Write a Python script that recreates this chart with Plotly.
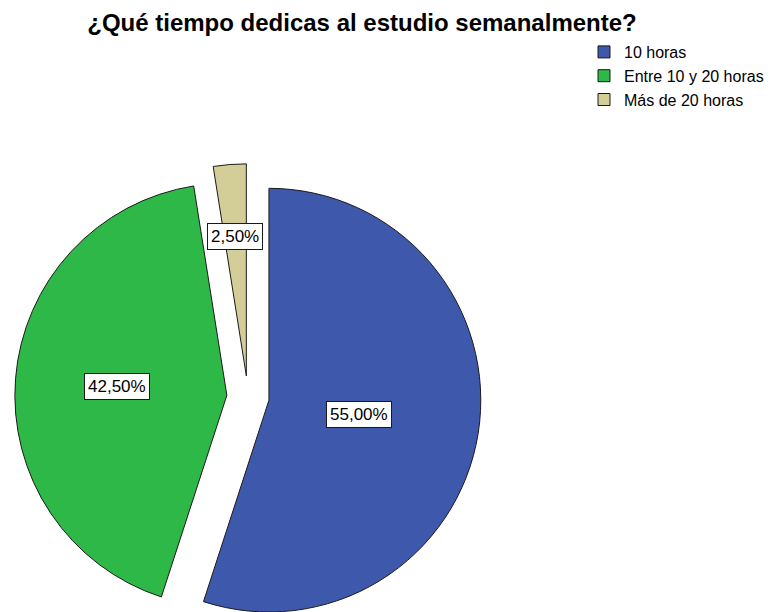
import math
import plotly.graph_objects as go

# ---- data ----
categories = ["10 horas", "Entre 10 y 20 horas", "Más de 20 horas"]
percentages = [55.0, 42.5, 2.5]
title_text = "¿Qué tiempo dedicas al estudio semanalmente?"

# ---- style / layout constants ----
slice_colors = ["#3E58AC", "#2EB848", "#D3CE97"]
edge_color = "#1a1a1a"
PAGE_MARGIN = 8                 # default <body> margin of the html page
W, H = 782 - PAGE_MARGIN, 612 - PAGE_MARGIN
CX, CY, R = 248, 397, 212       # base pie centre and radius (window pixels)
PULL = 0.1                      # exploded distance as fraction of radius
LABEL_FRAC = [0.43, 0.52, 0.66]  # label distance from slice apex (fraction of R)
FONT = "Liberation Sans, Arial, sans-serif"


def px_x(x):
    return (x - PAGE_MARGIN) / W


def px_y(y):
    return 1 - (y - PAGE_MARGIN) / H


def clamp(v):
    return max(0.0, min(1.0, v))


def fmt_pct(v):
    return f"{v:.2f}%".replace(".", ",")


fig = go.Figure()

# legend carrier (tiny pie hidden beneath the blue slice)
fig.add_trace(go.Pie(
    labels=categories, values=percentages, sort=False, direction="clockwise",
    marker=dict(colors=slice_colors, line=dict(color=edge_color, width=1)),
    textinfo="none", hoverinfo="skip", showlegend=True,
    domain=dict(x=[0.5, 0.5004], y=[0.3, 0.3004]),
))

total = sum(percentages)
annotations = []
cum = 0.0
for i, v in enumerate(percentages):
    mid = (cum + v / 2.0) / total * 2 * math.pi
    cum += v
    dx, dy = math.sin(mid), -math.cos(mid)
    sx = CX + PULL * R * dx
    sy = CY + PULL * R * dy
    colors = [c if j == i else "rgba(0,0,0,0)" for j, c in enumerate(slice_colors)]
    widths = [1 if j == i else 0 for j in range(len(categories))]
    fig.add_trace(go.Pie(
        labels=categories, values=percentages, sort=False, direction="clockwise",
        marker=dict(colors=colors, line=dict(color=edge_color, width=widths)),
        textinfo="none", showlegend=False,
        hovertemplate="%{label}: %{percent}<extra></extra>",
        domain=dict(x=[clamp(px_x(sx - R)), clamp(px_x(sx + R))],
                    y=[clamp(px_y(sy + R)), clamp(px_y(sy - R))]),
    ))
    lx = sx + LABEL_FRAC[i] * R * dx
    ly = sy + LABEL_FRAC[i] * R * dy
    annotations.append(dict(
        x=px_x(lx), y=px_y(ly), xref="paper", yref="paper",
        text=fmt_pct(v), showarrow=False, xanchor="center", yanchor="middle",
        font=dict(family=FONT, size=17, color="black"),
        bgcolor="white", bordercolor=edge_color, borderwidth=1, borderpad=3,
    ))

fig.update_layout(
    width=W, height=H,
    margin=dict(l=0, r=0, t=0, b=0, autoexpand=False),
    paper_bgcolor="white", plot_bgcolor="white",
    title=dict(text=title_text, x=px_x(362), xanchor="center",
               y=px_y(23), yanchor="middle",
               font=dict(family=FONT, size=24, color="black", weight="bold")),
    legend=dict(x=px_x(584), y=px_y(35), xanchor="left", yanchor="top",
                font=dict(family=FONT, size=16, color="black"),
                bgcolor="rgba(0,0,0,0)", tracegroupgap=0),
    annotations=annotations,
)

fig.write_html("out.html")
